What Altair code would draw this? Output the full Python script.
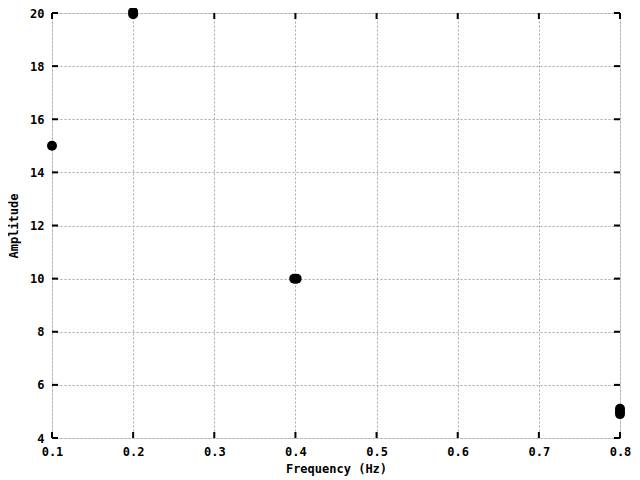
import altair as alt
import pandas as pd

freq = [0.1, 0.2, 0.2, 0.4, 0.4, 0.8, 0.8, 0.8]
amp = [15, 19.95, 20.05, 10, 10, 4.9, 5.0, 5.1]
freq_adj = [0.1, 0.2, 0.2, 0.3985, 0.4015, 0.8, 0.8, 0.8]
xticks = [0.1, 0.2, 0.3, 0.4, 0.5, 0.6, 0.7, 0.8]
yticks = [4, 6, 8, 10, 12, 14, 16, 18, 20]

W, H = 568, 425
FONT = "DejaVu Sans Mono"

df = pd.DataFrame({"f": freq_adj, "a": amp})
xs = alt.Scale(domain=[0.1, 0.8], nice=False, zero=False)
ys = alt.Scale(domain=[4, 20], nice=False, zero=False)

axis_common = dict(
    labelFont=FONT, labelFontSize=12, labelFontWeight="bold", labelColor="black",
    titleFont=FONT, titleFontSize=12, titleFontWeight="bold", titleColor="black",
    grid=True, gridColor="#a8a8a8", gridDash=[2, 2], gridWidth=1,
    ticks=False, domain=False, labelFlush=False,
)

points = alt.Chart(df).mark_circle(size=100, color="black", opacity=1).encode(
    x=alt.X("f:Q", scale=xs, title="Frequency (Hz)",
            axis=alt.Axis(values=xticks, format=".1f", labelPadding=8, titlePadding=6, **axis_common)),
    y=alt.Y("a:Q", scale=ys, title="Amplitude",
            axis=alt.Axis(values=yticks, format="d", labelPadding=8, titlePadding=9, **axis_common)),
)

xt = pd.DataFrame({"t": xticks})
yt = pd.DataFrame({"t": yticks})
xtick_b = alt.Chart(xt).mark_rule(color="black", strokeWidth=2).encode(
    x=alt.X("t:Q", scale=xs), y=alt.value(H), y2=alt.value(H - 6))
xtick_t = alt.Chart(xt).mark_rule(color="black", strokeWidth=2).encode(
    x=alt.X("t:Q", scale=xs), y=alt.value(0), y2=alt.value(6))
ytick_l = alt.Chart(yt).mark_rule(color="black", strokeWidth=2).encode(
    y=alt.Y("t:Q", scale=ys), x=alt.value(0), x2=alt.value(6))
ytick_r = alt.Chart(yt).mark_rule(color="black", strokeWidth=2).encode(
    y=alt.Y("t:Q", scale=ys), x=alt.value(W), x2=alt.value(W - 6))

chart = alt.layer(xtick_b, xtick_t, ytick_l, ytick_r, points).properties(
    width=W, height=H,
    autosize=alt.AutoSizeParams(type="none"),
    padding={"left": 44, "top": 5, "right": 12, "bottom": 40},
).configure_view(stroke="black", strokeWidth=2).configure(background="white")

chart.save("out.html", embed_options={"renderer": "svg", "actions": False})
